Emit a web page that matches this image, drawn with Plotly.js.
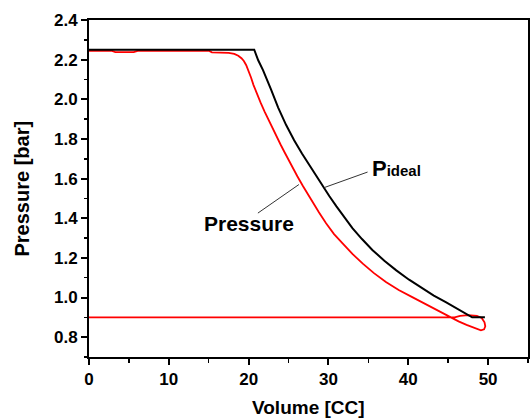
<!DOCTYPE html>
<html>
<head>
<meta charset="utf-8">
<script src="https://cdn.plot.ly/plotly-3.0.1.min.js"></script>
<style>html,body{margin:0;padding:0;background:#fff;}#chart{width:530px;height:419px;}</style>
</head>
<body>
<div id="chart"></div>
<script>
// Measured pressure cycle (red)
const pressureVolume = [0, 2.8, 3.3, 5.6, 6.2, 15.0, 15.4, 17.5, 18.2, 18.7, 19.1, 19.4, 19.7, 20.0, 20.3, 20.6, 21.0, 21.5, 22.0, 22.5, 23.0, 23.5, 24.0, 24.5, 25.0, 25.5, 26.1, 26.8, 27.4, 28.0, 28.8, 29.7, 30.7, 31.8, 33.0, 34.3, 35.7, 37.2, 38.8, 40.5, 42.0, 43.5, 45.3, 46.3, 47.3, 48.4, 49.1, 49.5, 49.65, 49.55, 49.2, 48.6, 47.5, 46.5, 45.8, 0];
const pressureBar = [2.245, 2.245, 2.238, 2.238, 2.245, 2.245, 2.237, 2.234, 2.229, 2.220, 2.207, 2.193, 2.172, 2.145, 2.110, 2.073, 2.030, 1.983, 1.938, 1.895, 1.853, 1.812, 1.772, 1.733, 1.694, 1.656, 1.612, 1.563, 1.522, 1.482, 1.430, 1.375, 1.320, 1.272, 1.220, 1.171, 1.123, 1.078, 1.038, 1.002, 0.970, 0.940, 0.900, 0.880, 0.862, 0.844, 0.835, 0.840, 0.855, 0.875, 0.897, 0.908, 0.911, 0.907, 0.900, 0.900];

// Ideal pressure (black)
const idealVolume = [0, 20.7, 21.2, 21.8, 22.8, 23.7, 24.7, 25.7, 26.7, 27.4, 28.0, 28.7, 29.3, 30.1, 31.0, 32.0, 33.0, 34.2, 35.5, 37.0, 38.5, 40.1, 41.8, 43.2, 44.7, 45.6, 46.4, 47.1, 47.6, 48.0, 49.6];
const idealBar = [2.250, 2.250, 2.197, 2.147, 2.050, 1.958, 1.870, 1.793, 1.725, 1.680, 1.642, 1.598, 1.560, 1.512, 1.460, 1.403, 1.350, 1.295, 1.240, 1.186, 1.137, 1.090, 1.046, 1.010, 0.977, 0.957, 0.939, 0.922, 0.910, 0.900, 0.900];

const xTitle = 'Volume [CC]';
const yTitle = 'Pressure [bar]';
const labelPressure = 'Pressure';
const labelIdeal = 'P<span style="font-size:15px">ideal</span>';

const FONT = '"Liberation Sans", Arial, sans-serif';

const traces = [
  {x: pressureVolume, y: pressureBar, type: 'scatter', mode: 'lines',
   line: {color: '#ff0000', width: 1.8}, hoverinfo: 'skip'},
  {x: idealVolume, y: idealBar, type: 'scatter', mode: 'lines',
   line: {color: '#000000', width: 2}, hoverinfo: 'skip'}
];

const axisCommon = {
  showgrid: false, zeroline: false, showline: true, linecolor: '#000', linewidth: 2,
  mirror: true, ticks: 'outside', ticklen: 6, tickwidth: 2, tickcolor: '#000',
  tickfont: {family: FONT, size: 17, color: '#000', weight: 'bold'}
};

const layout = {
  width: 530, height: 419,
  margin: {l: 89, r: 2, t: 20, b: 62},
  paper_bgcolor: '#fff', plot_bgcolor: '#fff',
  showlegend: false,
  font: {family: FONT, color: '#000'},
  xaxis: Object.assign({}, axisCommon, {
    range: [0, 55], tick0: 0, dtick: 10,
    minor: {dtick: 5, ticks: 'outside', ticklen: 3.5, tickwidth: 1.5, tickcolor: '#000'}
  }),
  yaxis: Object.assign({}, axisCommon, {
    range: [0.7, 2.4], tick0: 0.8, dtick: 0.2, tickformat: '.1f',
    minor: {dtick: 0.1, ticks: 'outside', ticklen: 3.5, tickwidth: 1.5, tickcolor: '#000'}
  }),
  shapes: [
    {type: 'line', xref: 'x', yref: 'y', x0: 34.9, y0: 1.633, x1: 29.5, y1: 1.555,
     line: {color: '#333', width: 1}},
    {type: 'line', xref: 'x', yref: 'y', x0: 21.16, y0: 1.426, x1: 26.3, y1: 1.57,
     line: {color: '#333', width: 1}}
  ],
  annotations: [
    {text: xTitle, xref: 'paper', yref: 'paper', x: 0.5, y: 0, yanchor: 'middle', xanchor: 'center',
     yshift: -50, showarrow: false, font: {family: FONT, size: 19, weight: 'bold', color: '#000'}},
    {text: yTitle, xref: 'paper', yref: 'paper', x: 0, y: 0.5, xanchor: 'center', yanchor: 'middle',
     xshift: -68, textangle: -90, showarrow: false, font: {family: FONT, size: 20, weight: 'bold', color: '#000'}},
    {text: labelPressure, xref: 'x', yref: 'y', x: 20.1, y: 1.374, xanchor: 'center', yanchor: 'middle',
     showarrow: false, font: {family: FONT, size: 21, weight: 'bold', color: '#000'}},
    {text: labelIdeal, xref: 'x', yref: 'y', x: 35.2, y: 1.652, xanchor: 'left', yanchor: 'middle',
     showarrow: false, font: {family: FONT, size: 22, weight: 'bold', color: '#000'}}
  ]
};

Plotly.newPlot('chart', traces, layout, {staticPlot: true, displayModeBar: false});
</script>
</body>
</html>
